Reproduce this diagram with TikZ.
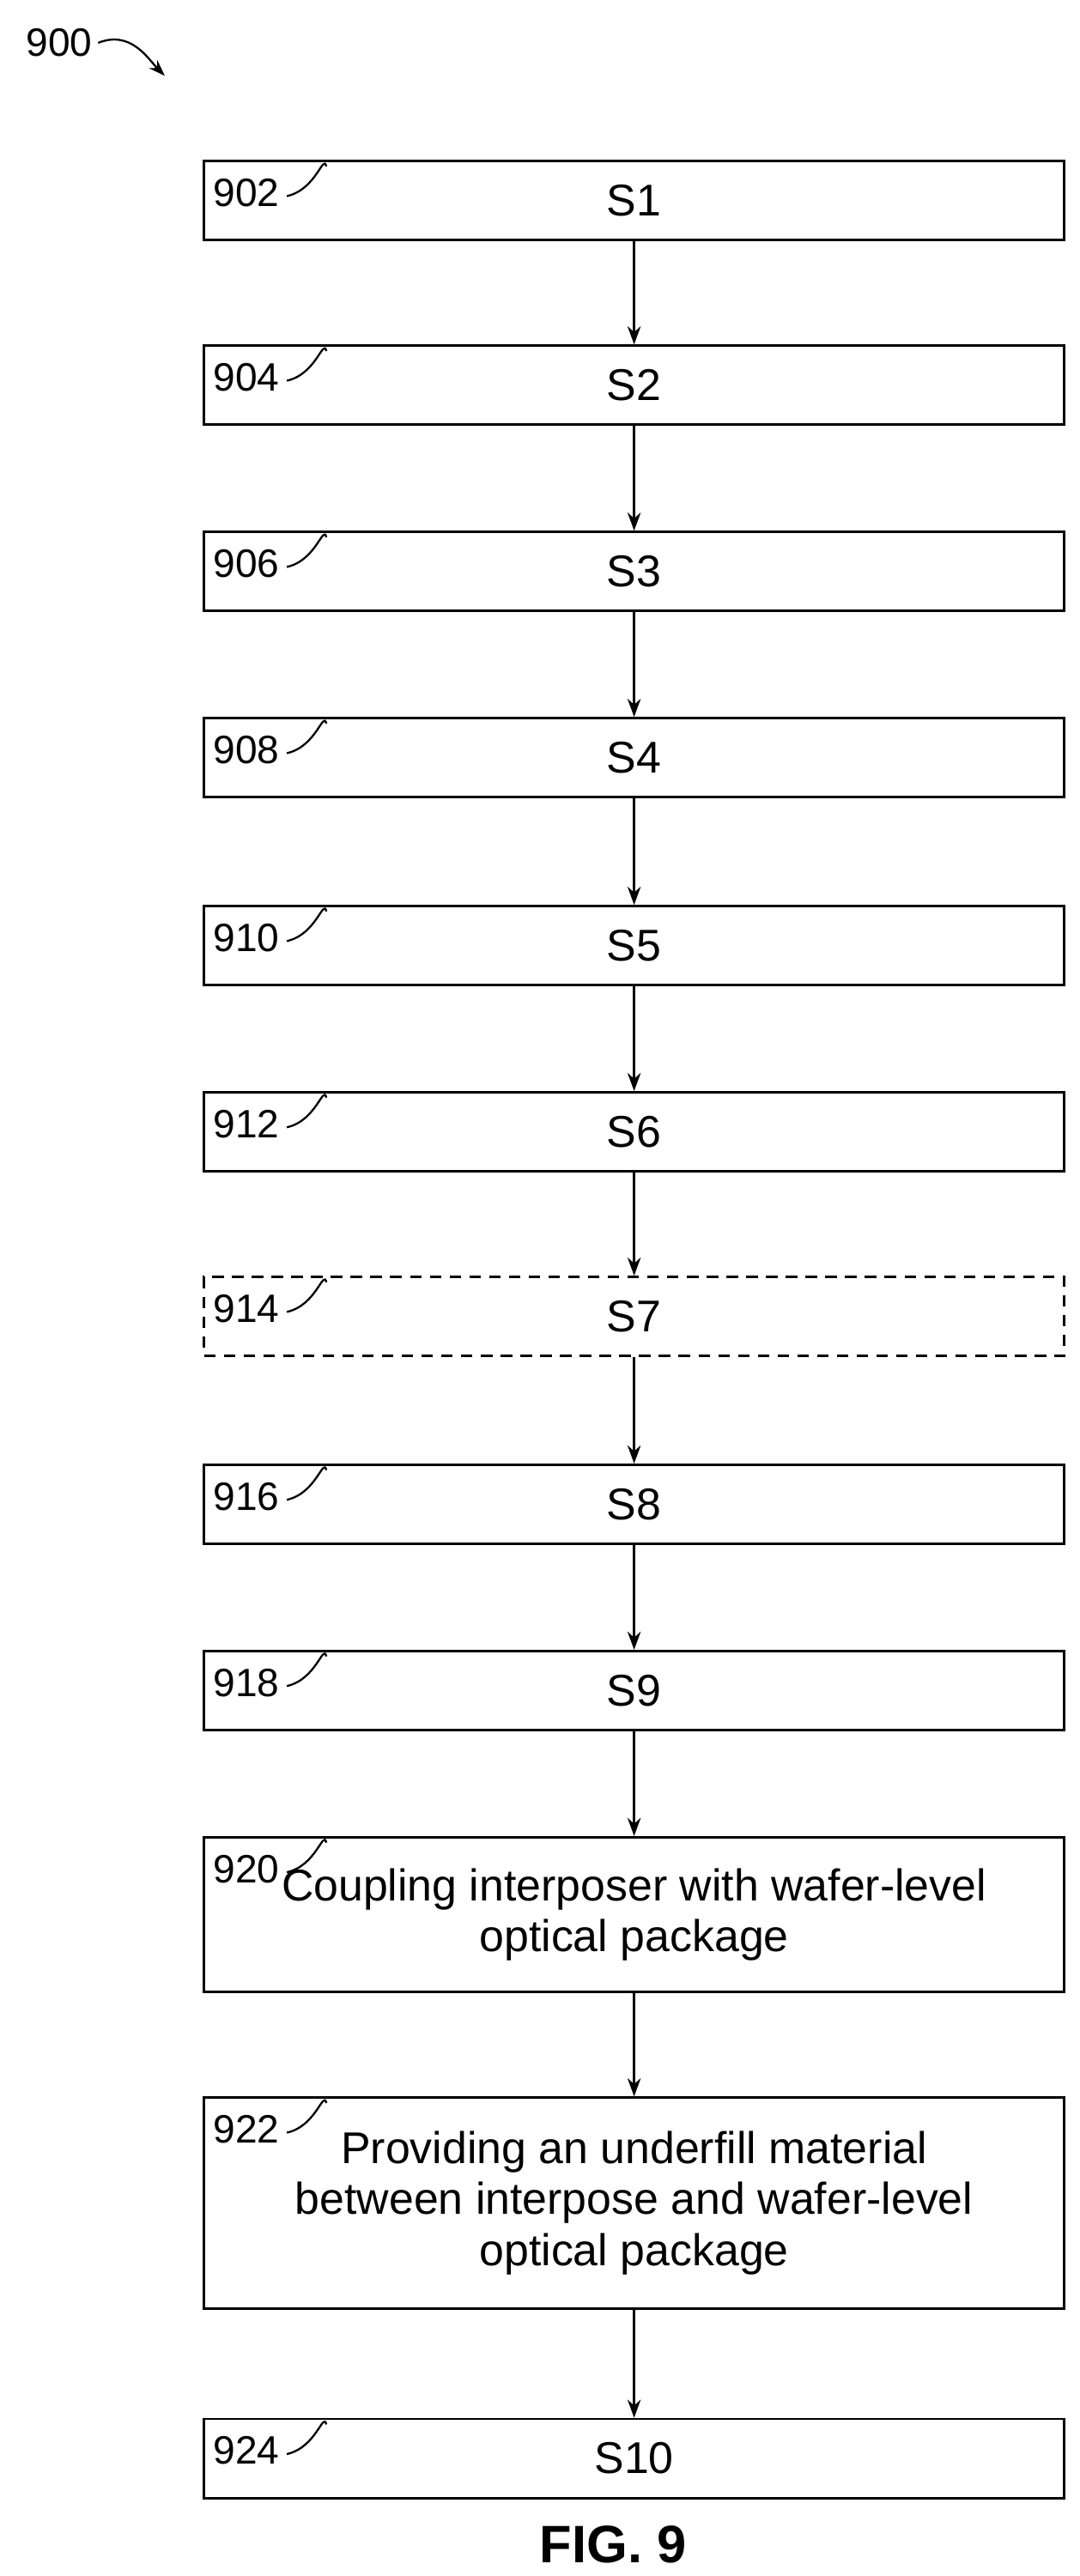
\documentclass[tikz,border=0pt]{standalone}
\usepackage{fontspec}
\setmainfont{Liberation Sans}
\usetikzlibrary{arrows.meta}
\begin{document}
\begin{tikzpicture}[x=1pt,y=-1pt,
  stepbox/.style={draw,line width=1.4pt,minimum width=522pt,anchor=north west,inner sep=0pt,align=center,font=\fontsize{27}{31}\selectfont},
  lbl/.style={font=\fontsize{24}{28}\selectfont,anchor=east},
  flow/.style={line width=1.4pt,-{Stealth[length=11pt,width=8pt]}},
  lead/.style={line width=1.2pt}]
\useasboundingbox (0,0) rectangle (655,1563);
\def\bx#1#2#3#4{\node[stepbox,minimum height=#3pt] (#1) at (123,#2) {#4};}
\bx{s1}{97}{48}{S1}
\bx{s2}{209}{48}{S2}
\bx{s3}{322}{48}{S3}
\bx{s4}{435}{48}{S4}
\bx{s5}{549}{48}{S5}
\bx{s6}{662}{48}{S6}
\node[stepbox,minimum height=48pt,dashed,dash pattern=on 7pt off 5pt] (s7) at (123,774) {S7};
\bx{s8}{888}{48}{S8}
\bx{s9}{1001}{48}{S9}
\bx{s920}{1114}{94}{Coupling interposer with wafer-level\\optical package}
\bx{s922}{1272}{128}{Providing an underfill material\\between interpose and wafer-level\\optical package}
\bx{s10}{1467}{48}{S10}
\foreach \a/\b in {s1/s2,s2/s3,s3/s4,s4/s5,s5/s6,s6/s7,s7/s8,s8/s9,s9/s920,s920/s922,s922/s10}
  \draw[flow] (\a.south) -- (\b.north);
\foreach \n/\t in {s1/902,s2/904,s3/906,s4/908,s5/910,s6/912,s7/914,s8/916,s9/918,s920/920,s922/922,s10/924}{
  \node[lbl] (l\n) at ([xshift=50pt,yshift=-20pt]\n.north west) {\t};
  \draw[lead] ([xshift=1pt,yshift=-2pt]l\n.east) .. controls +(18,-4) and +(-2,-8) .. ([xshift=75pt,yshift=-4pt]\n.north west);
}
\node[font=\fontsize{24}{28}\selectfont] (l900) at (36,26) {900};
\coordinate (a900) at (100,46);
\draw[lead,-{Stealth[length=10pt,width=7pt]}] (l900.east) .. controls +(20,-8) and +(-10,-10) .. (a900);
\node[font=\bfseries\fontsize{32}{36}\selectfont] (fig) at (372,1544) {FIG. 9};
\end{tikzpicture}
\end{document}
